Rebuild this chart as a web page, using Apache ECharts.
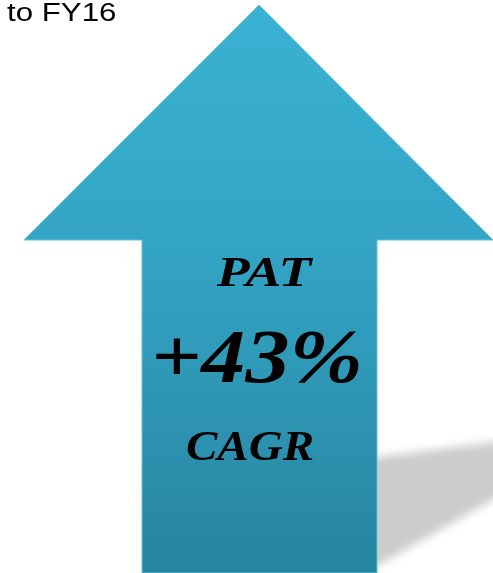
<!DOCTYPE html>
<html>
<head>
<meta charset="utf-8">
<script src="https://cdn.jsdelivr.net/npm/echarts@6/dist/echarts.min.js"></script>
<style>
  html, body { margin: 0; padding: 0; background: #fff; }
  #chart { width: 493px; height: 573px; }
</style>
</head>
<body>
<div id="chart"></div>
<script>
// outline of the up arrow, in axis units (one unit = one pixel of the frame)
const arrowX = [259, 493, 377, 377, 142, 142, 24];
const arrowY = [5, 240, 240, 573, 573, 240, 240];
// cast shadow to the right of the shaft
const shadowX = [370, 510, 510, 370];
const shadowY = [458, 440, 490, 570];

const caption = "to FY16";
const labels = ["PAT", "+43%", "CAGR"];

const myChart = echarts.init(document.getElementById("chart"));

function polyItem(xs, ys, style, shift) {
  return function (params, api) {
    if (params.dataIndex !== 0) return;
    const pts = xs.map((x, i) => {
      const p = api.coord([x, ys[i]]);
      return [p[0] - (shift || 0), p[1]];
    });
    return { type: "polygon", shape: { points: pts }, style: style };
  };
}

function label(text, x, y, size, sx) {
  return {
    type: "text",
    x: x, y: y,
    scaleX: sx,
    z: 100,
    style: {
      text: text,
      font: "italic bold " + size + "px 'Liberation Serif', serif",
      fill: "#000",
      textAlign: "center",
      textVerticalAlign: "middle"
    }
  };
}

myChart.setOption({
  animation: false,
  grid: { left: 0, right: 0, top: 0, bottom: 0 },
  xAxis: { type: "value", min: 0, max: 493, show: false },
  yAxis: { type: "value", min: 0, max: 573, inverse: true, show: false },
  series: [
    {
      // only the blurred shadow of this shape lands on the canvas
      type: "custom",
      silent: true,
      clip: false,
      data: shadowX.map((x, i) => [x, shadowY[i]]),
      renderItem: polyItem(shadowX, shadowY, {
        fill: "#cdcdcd",
        shadowBlur: 10,
        shadowOffsetX: 2000,
        shadowColor: "rgba(204,204,204,1)"
      }, 2000)
    },
    {
      type: "custom",
      silent: true,
      data: arrowX.map((x, i) => [x, arrowY[i]]),
      renderItem: polyItem(arrowX, arrowY, {
        fill: new echarts.graphic.LinearGradient(0, 0, 0, 1, [
          { offset: 0, color: "#3ab2d3" },
          { offset: 0.45, color: "#33a3c4" },
          { offset: 1, color: "#27859f" }
        ]),
        stroke: "#5ec4dd",
        lineWidth: 1
      })
    }
  ],
  graphic: [
    {
      type: "text",
      x: 7, y: 2,
      scaleX: 1.25,
      z: 100,
      style: {
        text: caption,
        font: "25px 'Liberation Sans', Arial, sans-serif",
        fill: "#000",
        textVerticalAlign: "top"
      }
    },
    label(labels[0], 264, 275, 42, 1.28),
    label(labels[1], 257, 362, 76, 1.16),
    label(labels[2], 250, 449, 42, 1.12)
  ]
});
</script>
</body>
</html>
